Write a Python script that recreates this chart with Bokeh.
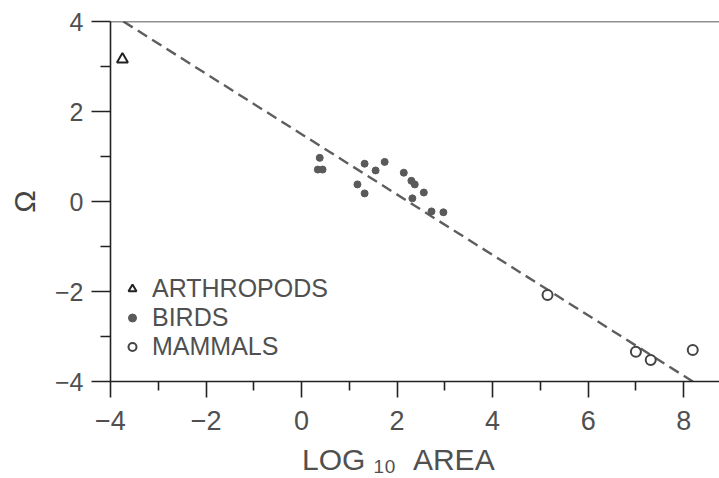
from bokeh.plotting import figure
from bokeh.models import FixedTicker, Span, Legend, LegendItem, Range1d
from bokeh.embed import file_html
from bokeh.resources import INLINE

# ---- data ----
arthropods_x = [-3.75]
arthropods_y = [3.16]

birds_x = [0.38, 0.34, 0.44, 1.32, 1.74, 1.55, 1.17, 1.32, 2.14, 2.30, 2.37, 2.56, 2.32, 2.72, 2.97]
birds_y = [0.97, 0.71, 0.71, 0.84, 0.88, 0.69, 0.38, 0.18, 0.64, 0.46, 0.38, 0.20, 0.07, -0.22, -0.24]

mammals_x = [5.15, 7.00, 7.31, 8.19]
mammals_y = [-2.08, -3.34, -3.52, -3.30]

fit_x = [-3.73, 8.19]
fit_y = [4.0, -4.0]

x_major = [-4, -2, 0, 2, 4, 6, 8]
x_minor = [-3, -1, 1, 3, 5, 7]
y_major = [-4, -2, 0, 2, 4]
y_minor = [-3, -1, 1, 3]
x_tick_labels = {-4: "\u22124", -2: "\u22122", 0: "0", 2: "2", 4: "4", 6: "6", 8: "8"}
y_tick_labels = {-4: "\u22124", -2: "\u22122", 0: "0", 2: "2", 4: "4"}

INK = "#222222"
TXT = "#505050"
FONT = "Liberation Sans"

p = figure(width=719, height=478, output_backend="svg", toolbar_location=None,
           x_range=Range1d(-4, 8.75), y_range=Range1d(-4, 4),
           min_border_left=110, min_border_right=0, min_border_top=21, min_border_bottom=95)
p.outline_line_color = None
p.grid.visible = False
p.background_fill_color = "white"
p.border_fill_color = "white"

# axes
for ax in (p.xaxis[0], p.yaxis[0]):
    ax.axis_line_color = INK
    ax.axis_line_width = 1.6
    ax.major_tick_line_color = INK
    ax.minor_tick_line_color = INK
    ax.major_tick_line_width = 1.6
    ax.minor_tick_line_width = 1.6
    ax.major_tick_in = 0
    ax.minor_tick_in = 0
    ax.major_label_text_color = TXT
    ax.major_label_text_font = FONT

p.xaxis.ticker = FixedTicker(ticks=x_major, minor_ticks=x_minor)
p.xaxis.major_label_overrides = x_tick_labels
p.xaxis.major_tick_out = 16
p.xaxis.minor_tick_out = 9
p.xaxis.major_label_text_font_size = "27px"
p.xaxis.major_label_standoff = 13
p.xaxis.axis_label = "LOG\u00a0\u2081\u2080\u00a0\u00a0AREA\u00a0\u00a0\u00a0\u00a0"
p.xaxis.axis_label_text_font = FONT
p.xaxis.axis_label_text_font_size = "30px"
p.xaxis.axis_label_text_font_style = "normal"
p.xaxis.axis_label_text_color = TXT
p.xaxis.axis_label_standoff = 10

p.yaxis.ticker = FixedTicker(ticks=y_major, minor_ticks=y_minor)
p.yaxis.major_label_overrides = y_tick_labels
p.yaxis.major_tick_out = 19
p.yaxis.minor_tick_out = 10
p.yaxis.major_label_text_font_size = "25px"
p.yaxis.major_label_standoff = 8
p.yaxis.axis_label = "\u03a9"
p.yaxis.axis_label_text_font = FONT
p.yaxis.axis_label_text_font_size = "30px"
p.yaxis.axis_label_text_font_style = "normal"
p.yaxis.axis_label_text_color = "#444444"
p.yaxis.axis_label_standoff = 11

# top line at y = 4
p.add_layout(Span(location=4, dimension="width", line_color=INK, line_width=1.6))

# regression line
p.line(fit_x, fit_y, line_color="#5e5e5e", line_width=2.4, line_dash="11 6")

r_a = p.scatter(arthropods_x, arthropods_y, marker="triangle", size=11,
                line_color="#222222", line_width=2, fill_color="white")
r_b = p.scatter(birds_x, birds_y, marker="circle", size=7,
                line_color="#5a5a5a", fill_color="#5a5a5a")
r_m = p.scatter(mammals_x, mammals_y, marker="circle", size=10,
                line_color="#444444", line_width=2, fill_color="white")

legend = Legend(items=[LegendItem(label="ARTHROPODS", renderers=[r_a]),
                       LegendItem(label="BIRDS", renderers=[r_b]),
                       LegendItem(label="MAMMALS", renderers=[r_m])],
                location=(12, 20), orientation="vertical",
                label_text_font=FONT, label_text_font_size="25px", label_text_color=TXT,
                glyph_width=20, glyph_height=25, label_height=25, spacing=0,
                padding=0, margin=0, label_standoff=10,
                background_fill_alpha=0, border_line_alpha=0)
p.add_layout(legend)

open("out.html", "w").write(file_html(p, INLINE))
